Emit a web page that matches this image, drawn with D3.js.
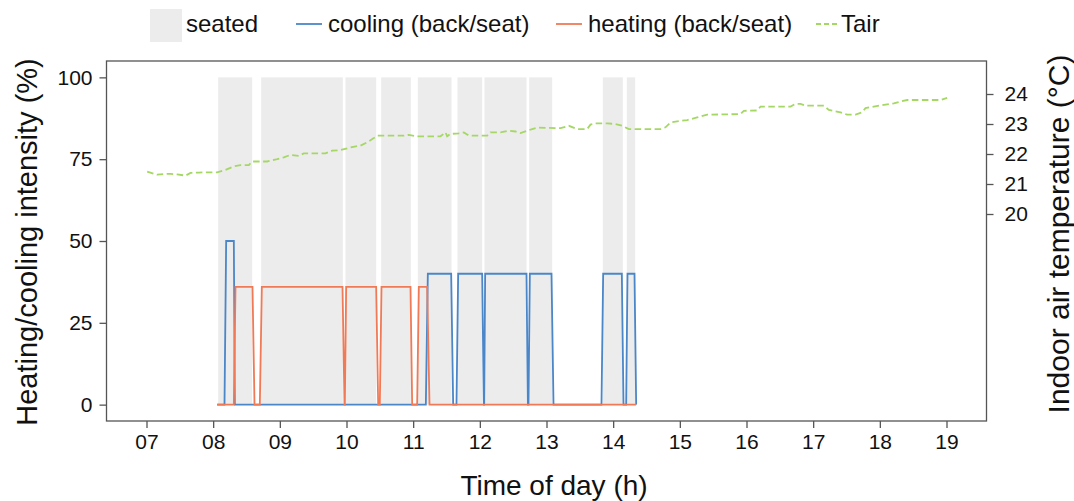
<!DOCTYPE html>
<html><head><meta charset="utf-8">
<script src="https://cdn.jsdelivr.net/npm/d3@7"></script>
<style>
html,body{margin:0;padding:0;background:#fff;}
text{font-family:"Liberation Sans",Arial,Helvetica,sans-serif;fill:#111;}
</style></head>
<body><svg id="chart" width="1074" height="501"></svg>
<script>
// ---- data ----
const seatStart = [8.075, 8.72, 9.985, 10.52, 11.07, 11.665, 12.07, 12.74, 13.845, 14.205];
const seatEnd   = [8.585, 9.945, 10.445, 10.965, 11.575, 12.035, 12.70, 13.085, 14.145, 14.33];

const coolTime  = [8.06, 8.17, 8.195, 8.31, 8.325, 11.19, 11.22, 11.57, 11.60, 11.65, 11.675, 12.035, 12.06, 12.065, 12.08, 12.70, 12.72, 12.73, 12.75, 13.075, 13.105, 13.825, 13.85, 14.13, 14.155, 14.195, 14.215, 14.32, 14.345];
const coolValue = [0, 0, 50, 50, 0, 0, 40, 40, 0, 0, 40, 40, 0, 0, 40, 40, 0, 0, 40, 40, 0, 0, 40, 40, 0, 0, 40, 40, 0];

const heatTime  = [8.06, 8.31, 8.335, 8.59, 8.62, 8.70, 8.73, 9.94, 9.97, 9.975, 9.995, 10.445, 10.475, 10.50, 10.525, 10.96, 10.985, 11.06, 11.085, 11.21, 11.245, 14.345];
const heatValue = [0, 0, 36, 36, 0, 0, 36, 36, 0, 0, 36, 36, 0, 0, 36, 36, 0, 0, 36, 36, 0, 0];

const tairTime  = [7.01, 7.16, 7.26, 7.36, 7.46, 7.585, 7.66, 7.785, 7.91, 8.06, 8.185, 8.31, 8.41, 8.535, 8.585, 8.81, 8.96, 9.06, 9.16, 9.285, 9.36, 9.685, 9.785, 9.91, 10.06, 10.21, 10.31, 10.41, 10.46, 10.86, 10.935, 11.035, 11.41, 11.485, 11.51, 11.56, 11.685, 11.76, 11.835, 12.11, 12.16, 12.31, 12.435, 12.535, 12.61, 12.785, 12.86, 13.21, 13.335, 13.46, 13.61, 13.66, 13.735, 13.91, 14.035, 14.135, 14.235, 14.71, 14.785, 14.86, 14.96, 15.11, 15.26, 15.41, 15.91, 15.96, 16.16, 16.21, 16.66, 16.735, 16.81, 16.885, 17.16, 17.235, 17.41, 17.51, 17.635, 17.735, 17.785, 17.91, 18.06, 18.21, 18.31, 18.41, 18.91, 19.01];
const tairValue = [21.41, 21.31, 21.33, 21.34, 21.32, 21.28, 21.37, 21.38, 21.39, 21.39, 21.47, 21.59, 21.63, 21.63, 21.75, 21.75, 21.83, 21.89, 21.97, 21.94, 22.02, 22.02, 22.11, 22.13, 22.22, 22.28, 22.39, 22.53, 22.61, 22.61, 22.64, 22.59, 22.59, 22.72, 22.59, 22.67, 22.69, 22.72, 22.61, 22.61, 22.72, 22.72, 22.78, 22.75, 22.70, 22.83, 22.88, 22.86, 22.94, 22.83, 22.83, 22.98, 23.02, 23.02, 23.00, 22.94, 22.83, 22.83, 22.89, 23.05, 23.09, 23.13, 23.22, 23.31, 23.33, 23.44, 23.45, 23.58, 23.58, 23.67, 23.67, 23.61, 23.61, 23.47, 23.39, 23.31, 23.31, 23.39, 23.53, 23.58, 23.64, 23.69, 23.75, 23.80, 23.80, 23.87];

const xTicks = [7, 8, 9, 10, 11, 12, 13, 14, 15, 16, 17, 18, 19];
const yTicksLeft = [0, 25, 50, 75, 100];
const yTicksRight = [20, 21, 22, 23, 24];
const legendLabels = ["seated", "cooling (back/seat)", "heating (back/seat)", "Tair"];

// ---- layout ----
const svg = d3.select("#chart");
const L = 106.5, R = 986.5, T = 61, B = 421;
const colCool = "#4a86c8", colHeat = "#f07a55", colTair = "#a5d765", colSeat = "#ececec", colAxis = "#555";

const x = d3.scaleLinear().domain([6.4, 19.6]).range([L, R]);
const y = d3.scaleLinear().domain([-5, 105]).range([B, T]);
const y2 = d3.scaleLinear().domain([13.1, 25.1]).range([B, T]);

// seated rectangles
const seats = seatStart.map((s, i) => ({s, e: seatEnd[i]}));
svg.append("g").selectAll("rect").data(seats).join("rect")
  .attr("x", d => x(d.s)).attr("width", d => x(d.e) - x(d.s))
  .attr("y", y(100)).attr("height", y(0) - y(100))
  .attr("fill", colSeat);

// lines
const lineXY = d3.line().x(d => x(d[0])).y(d => y(d[1]));
const cool = coolTime.map((t, i) => [t, coolValue[i]]);
const heat = heatTime.map((t, i) => [t, heatValue[i]]);
svg.append("path").attr("d", lineXY(cool)).attr("fill", "none").attr("stroke", colCool).attr("stroke-width", 1.8);
svg.append("path").attr("d", lineXY(heat)).attr("fill", "none").attr("stroke", colHeat).attr("stroke-width", 1.8);

const tair = tairTime.map((t, i) => [t, tairValue[i]]);
const lineT = d3.line().x(d => x(d[0])).y(d => y2(d[1]));
svg.append("path").attr("d", lineT(tair)).attr("fill", "none").attr("stroke", colTair)
  .attr("stroke-width", 1.8).attr("stroke-dasharray", "6.5,3.5");

// frame
svg.append("rect").attr("x", L).attr("y", T).attr("width", R - L).attr("height", B - T)
  .attr("fill", "none").attr("stroke", colAxis).attr("stroke-width", 1.3);

// axes
function styleAxis(g) {
  g.select(".domain").remove();
  g.selectAll(".tick line").attr("stroke", colAxis).attr("stroke-width", 1.3);
  g.selectAll(".tick text").style("font-size", "21px").attr("fill", "#111")
    .style("font-family", '"Liberation Sans", Arial, sans-serif');
}
svg.append("g").attr("transform", `translate(0,${B})`)
  .call(d3.axisBottom(x).tickValues(xTicks).tickSize(7).tickPadding(6).tickFormat(d => d3.format("02d")(d)))
  .call(styleAxis);
svg.append("g").attr("transform", `translate(${L},0)`)
  .call(d3.axisLeft(y).tickValues(yTicksLeft).tickSize(7).tickPadding(7))
  .call(styleAxis);
svg.append("g").attr("transform", `translate(${R},0)`)
  .call(d3.axisRight(y2).tickValues(yTicksRight).tickSize(7).tickPadding(11))
  .call(styleAxis);

// axis titles
svg.append("text").attr("x", 554).attr("y", 495).attr("text-anchor", "middle")
  .style("font-size", "28px").text("Time of day (h)");
svg.append("text").attr("transform", "translate(37,242) rotate(-90)").attr("text-anchor", "middle")
  .style("font-size", "29px").text("Heating/cooling intensity (%)");
svg.append("text").attr("transform", "translate(1069,234) rotate(-90)").attr("text-anchor", "middle")
  .style("font-size", "30px").text("Indoor air temperature (°C)");

// legend
const lg = svg.append("g");
lg.append("rect").attr("x", 150).attr("y", 9).attr("width", 32).attr("height", 33).attr("fill", colSeat);
lg.append("text").attr("x", 186).attr("y", 32).style("font-size", "24px").text(legendLabels[0]);
lg.append("line").attr("x1", 296).attr("x2", 322).attr("y1", 24).attr("y2", 24).attr("stroke", colCool).attr("stroke-width", 1.8);
lg.append("text").attr("x", 328).attr("y", 32).style("font-size", "24px").text(legendLabels[1]);
lg.append("line").attr("x1", 556).attr("x2", 582).attr("y1", 24).attr("y2", 24).attr("stroke", colHeat).attr("stroke-width", 1.8);
lg.append("text").attr("x", 588).attr("y", 32).style("font-size", "24px").text(legendLabels[2]);
lg.append("line").attr("x1", 816).attr("x2", 837).attr("y1", 24).attr("y2", 24).attr("stroke", colTair)
  .attr("stroke-width", 1.8).attr("stroke-dasharray", "5,3");
lg.append("text").attr("x", 841).attr("y", 32).style("font-size", "24px").text(legendLabels[3]);
</script></body></html>
